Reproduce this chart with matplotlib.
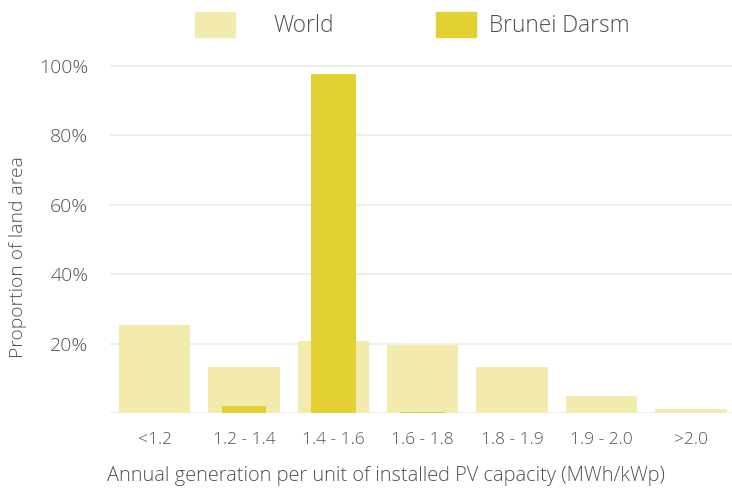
import matplotlib.pyplot as plt
import numpy as np
from matplotlib.patches import Patch

# Data.
categories = ['<1.2', '1.2 - 1.4', '1.4 - 1.6', '1.6 - 1.8', '1.8 - 1.9', '1.9 - 2.0', '>2.0']
world  = [25.4, 13.3, 20.7, 19.7, 13.3, 5.0, 1.2]
brunei = [0.0, 2.0, 97.6, 0.3, 0.0, 0.0, 0.0]

c_world  = '#F3EBAE'
c_brunei = '#E3D033'
c_text   = '#505050'

plt.rcParams['font.family'] = ['Open Sans', 'DejaVu Sans']
plt.rcParams['font.weight'] = 'light'

# Start figure.
fig = plt.figure(figsize=(7.32, 4.92), dpi=100)
ax  = fig.add_axes([0.150, 0.1606, 0.855, 0.72])

x = np.arange(len(categories))
ax.bar(x, world, width=0.8, color=c_world, zorder=2)
ax.bar(x, brunei, width=0.5, color=c_brunei, zorder=3)

# Add details.
ax.set_xlim(-0.5, 6.5)
ax.set_ylim(0, 100*(0.72*492)/347)
ax.set_yticks([0, 20, 40, 60, 80, 100])
ax.set_yticklabels(['', '20%', '40%', '60%', '80%', '100%'])
ax.set_xticks(x)
ax.set_xticklabels(categories)
ax.tick_params(length=0, labelsize=12.5, colors=c_text, pad=14)
ax.tick_params(axis='y', pad=15.5, labelsize=14)
ax.grid(axis='y', color='#EEEEEE', lw=1.5, zorder=0)
for s in ax.spines.values():
  s.set_visible(False)

fig.text(0.024, 0.478, 'Proportion of land area', rotation=90, ha='center', va='center',
         fontsize=13.9, color=c_text)
fig.text(0.527, 0.032, 'Annual generation per unit of installed PV capacity (MWh/kWp)',
         ha='center', va='center', fontsize=14.4, color=c_text)

# Legend: two entries placed separately.
fs = 16.3
for lab, col, x0, pad in [('World', c_world, 195, 1.7), ('Brunei Darsm', c_brunei, 436, 0.6)]:
  leg = fig.legend(handles=[Patch(color=col, label=lab)], loc='center left',
                   bbox_to_anchor=(x0/732, 1-25/492), frameon=False, fontsize=fs,
                   handlelength=1.75, handleheight=1.3, handletextpad=pad,
                   borderpad=0, borderaxespad=0)
  for t in leg.get_texts():
    t.set_color(c_text)

# Save figure.
fig.savefig('out.png', dpi=100)
plt.close()
